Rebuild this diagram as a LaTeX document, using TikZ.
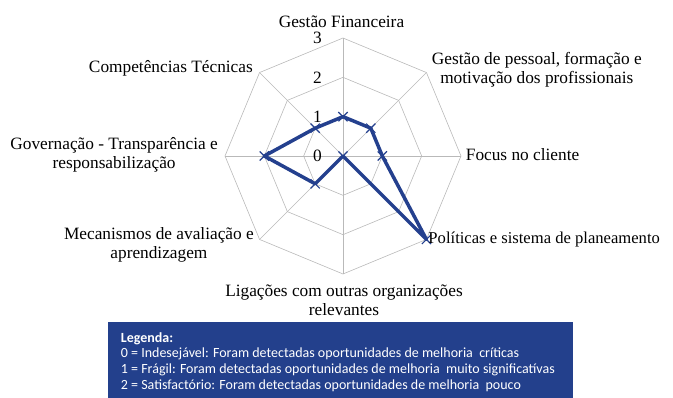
\documentclass[tikz,border=0pt]{standalone}
\usepackage{fontspec}
\setmainfont{Liberation Serif}
\newfontfamily\legendafont{Carlito}
\usetikzlibrary{positioning,calc,shapes.misc}
\definecolor{serieazul}{RGB}{36,64,142}
\definecolor{legendaazul}{RGB}{35,64,140}
\tikzset{
  rede/.style={draw=gray!55,line width=0.6pt},
  serie/.style={draw=serieazul,line width=3.5pt,line join=round},
  marca/.style={cross out,draw=serieazul,line width=1.2pt,minimum size=8pt,inner sep=0pt},
  eixo/.style={font=\fontsize{17.3}{19}\selectfont,align=center,inner sep=2pt},
  escala/.style={font=\fontsize{17.3}{19}\selectfont,anchor=east,inner sep=1pt},
  caixa/.style={rectangle,fill=legendaazul,draw=none,anchor=north west,
    minimum width=465pt,minimum height=90pt},
  legendatexto/.style={text=white,align=left,inner sep=0pt,
    font=\legendafont\fontsize{14}{15.8}\selectfont}
}
\begin{document}
\begin{tikzpicture}[x=1pt,y=1pt]
  \useasboundingbox (-343,-242) rectangle (330,156);
  % rede do radar
  \foreach \r in {39.33,78.67,118}
    \draw[rede] (0:\r) \foreach \a in {45,90,...,315}{ -- (\a:\r)} -- cycle;
  \foreach \a in {0,45,...,315}
    \draw[rede] (0,0) -- (\a:118);
  \foreach \v in {0,...,3}
    \node[escala] (e\v) at (-20,\v*39.33) {\v};
  % valores
  \foreach \a/\v/\n in {90/1/gf,45/1/gp,0/1/fc,-45/3/pp,-90/0/lo,-135/1/ma,180/2/gt,135/1/ct}
    \coordinate (\n) at (\a:{\v*39.33});
  \draw[serie] (gf) -- (gp) -- (fc) -- (pp) -- (lo) -- (ma) -- (gt) -- (ct) -- cycle;
  \foreach \n in {gf,gp,fc,pp,lo,ma,gt,ct}
    \node[marca] (m\n) at (\n) {};
  % eixos
  \node[eixo,anchor=base] (lgf) at (-1.5,128) {Gestão Financeira};
  \node[eixo,anchor=west] (lgp) at (86.7,86) {Gestão de pessoal, formação e\\motivação dos profissionais};
  \node[eixo,anchor=base west] (lfc) at (120.7,-5) {Focus no cliente};
  \node[eixo,anchor=base west,font=\fontsize{16.6}{19}\selectfont] (lpp) at (83.3,-88) {Políticas e sistema de planeamento};
  \node[eixo,anchor=center] (llo) at (1,-144) {Ligações com outras organizações\\relevantes};
  \node[eixo,anchor=east] (lma) at (-87,-88.5) {Mecanismos de avaliação e\\aprendizagem};
  \node[eixo,anchor=east] (lgt) at (-123,1) {Governação - Transparência e\\responsabilização};
  \node[eixo,anchor=base east] (lct) at (-88,83.3) {Competências Técnicas};
  % legenda
  \node[caixa] (legenda) at (-235,-166) {};
  \node[legendatexto,anchor=north west] (legtexto) at ([xshift=12.7pt,yshift=-10pt]legenda.north west)
    {\textbf{Legenda:}\\
     0 = Indesejável: Foram detectadas oportunidades de melhoria\ \ críticas\\
     1 = Frágil: Foram detectadas oportunidades de melhoria\ \ muito significatívas\\
     2 = Satisfactório: Foram detectadas oportunidades de melhoria\ \ pouco};
\end{tikzpicture}
\end{document}
